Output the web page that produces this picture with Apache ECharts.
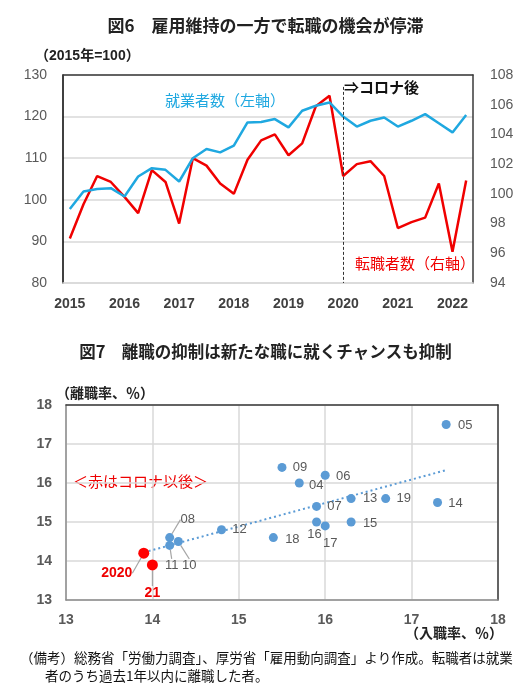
<!DOCTYPE html>
<html>
<head>
    <meta charset="UTF-8">
    <title>図6・図7</title>
    <script type="text/javascript" src="https://cdn.jsdelivr.net/npm/echarts@6/dist/echarts.min.js"></script>
    <style>
        html, body { margin: 0; padding: 0; background: #fff; }
        #main { width: 531px; height: 684px; }
    </style>
</head>
<body>
<div id="main"></div>
<script>
    // 図6 データ（四半期、2015年=100）
    var quarters = ['2015Q1', '2015Q2', '2015Q3', '2015Q4', '2016Q1', '2016Q2', '2016Q3', '2016Q4',
        '2017Q1', '2017Q2', '2017Q3', '2017Q4', '2018Q1', '2018Q2', '2018Q3', '2018Q4',
        '2019Q1', '2019Q2', '2019Q3', '2019Q4', '2020Q1', '2020Q2', '2020Q3', '2020Q4',
        '2021Q1', '2021Q2', '2021Q3', '2021Q4', '2022Q1', '2022Q2'];
    // 就業者数（左軸）
    var employed = [97.8, 102.0, 102.6, 102.8, 100.8, 105.6, 107.6, 107.2, 104.4, 110.0,
        112.2, 111.4, 113.0, 118.6, 118.7, 119.4, 117.4, 121.4, 122.6, 123.4,
        120.0, 117.6, 119.0, 119.8, 117.6, 119.0, 120.6, 118.4, 116.2, 120.4];
    // 転職者数（右軸）
    var jobChangers = [97.0, 99.3, 101.2, 100.8, 99.8, 98.7, 101.6, 100.8, 98.0, 102.4,
        101.9, 100.7, 100.0, 102.3, 103.6, 104.0, 102.6, 103.4, 105.9, 106.6,
        101.2, 102.0, 102.2, 101.2, 97.7, 98.1, 98.4, 100.7, 96.1, 100.9];

    // 図7 データ（入職率、離職率）
    var preYears = ['04', '05', '06', '07', '08', '09', '10', '11', '12', '13', '14', '15', '16', '17', '18', '19'];
    var preEntry = [15.7, 17.4, 16.0, 15.9, 14.2, 15.5, 14.3, 14.2, 14.8, 16.3, 17.3, 16.3, 15.9, 16.0, 15.4, 16.7];
    var preSep = [16.0, 17.5, 16.2, 15.4, 14.6, 16.4, 14.5, 14.4, 14.8, 15.6, 15.5, 15.0, 15.0, 14.9, 14.6, 15.6];
    var covidYears = ['2020', '21'];
    var covidEntry = [13.9, 14.0];
    var covidSep = [14.2, 13.9];
    // 近似線（両端）
    var trendEntry = [13.9, 17.4];
    var trendSep = [14.22, 16.33];

    // ラベルの位置（点の中心からのずれ、px）
    var labelOffsets = {
        '04': [17, 2], '05': [19, 1], '06': [18, 1], '07': [18, 0], '08': [18, -18],
        '09': [18, 0], '10': [11, 24], '11': [2, 20], '12': [18, 0], '13': [19, 0],
        '14': [18, 1], '15': [19, 1], '16': [-2, 12], '17': [5, 18], '18': [19, 2],
        '19': [18, 0], '2020': [-27, 20], '21': [0, 28]
    };
    var withLeader = ['08', '10', '11', '2020', '21'];

    var FONT = "'Liberation Sans', 'Noto Sans CJK JP', sans-serif";
    var JP = "'Noto Sans CJK JP', sans-serif";

    function toPoints(names, xs, ys) {
        var out = [];
        for (var i = 0; i < names.length; i++) {
            out.push({
                name: names[i],
                value: [xs[i], ys[i]],
                labelLine: {show: withLeader.indexOf(names[i]) >= 0}
            });
        }
        return out;
    }

    function layoutLabel(names) {
        return function (p) {
            var o = labelOffsets[names[p.dataIndex]];
            return {
                x: p.rect.x + p.rect.width / 2 + o[0],
                y: p.rect.y + p.rect.height / 2 + o[1],
                align: 'center',
                verticalAlign: 'middle'
            };
        };
    }

    var trendData = [];
    for (var t = 0; t < trendEntry.length; t++) {
        trendData.push([trendEntry[t], trendSep[t]]);
    }

    var myChart = echarts.init(document.getElementById('main'));
    myChart.setOption({
        animation: false,
        textStyle: {fontFamily: FONT},
        title: [{
            text: '図6　雇用維持の一方で転職の機会が停滞',
            left: 'center',
            top: 17,
            padding: 0,
            textStyle: {fontFamily: JP, fontSize: 17, fontWeight: 'bold', color: '#222'}
        }, {
            text: '図7　離職の抑制は新たな職に就くチャンスも抑制',
            left: 'center',
            top: 343,
            padding: 0,
            textStyle: {fontFamily: JP, fontSize: 16.5, fontWeight: 'bold', color: '#222'}
        }],
        grid: [
            {left: 63, right: 58, top: 75, bottom: 401},
            {left: 66, right: 33, top: 405, bottom: 84}
        ],
        xAxis: [{
            gridIndex: 0,
            type: 'category',
            data: quarters,
            boundaryGap: true,
            axisLine: {lineStyle: {color: '#d9d9d9', width: 1.5}},
            axisTick: {show: false},
            axisLabel: {
                interval: 3,
                margin: 14,
                color: '#404040',
                fontSize: 14,
                fontWeight: 'bold',
                formatter: function (v) { return v.slice(0, 4); }
            }
        }, {
            gridIndex: 0,
            type: 'category',
            data: quarters,
            position: 'top',
            axisLine: {lineStyle: {color: '#3a3a3a', width: 1.5}},
            axisTick: {show: false},
            axisLabel: {show: false}
        }, {
            gridIndex: 1,
            type: 'value',
            min: 13,
            max: 18,
            interval: 1,
            axisLine: {show: true, lineStyle: {color: '#8c8c8c', width: 1.5}},
            axisTick: {show: false},
            splitLine: {lineStyle: {color: '#d9d9d9', width: 1.5}},
            axisLabel: {margin: 13, color: '#595959', fontSize: 14, fontWeight: 'bold'}
        }, {
            gridIndex: 1,
            type: 'value',
            min: 13,
            max: 18,
            interval: 1,
            position: 'top',
            axisLine: {show: true, lineStyle: {color: '#3a3a3a', width: 1.5}},
            axisTick: {show: false},
            splitLine: {show: false},
            axisLabel: {show: false}
        }],
        yAxis: [{
            gridIndex: 0,
            type: 'value',
            min: 80,
            max: 130,
            interval: 10,
            axisLine: {show: true, lineStyle: {color: '#000', width: 1.5}},
            axisTick: {show: false},
            splitLine: {lineStyle: {color: '#d9d9d9', width: 1.5}},
            axisLabel: {margin: 16, color: '#595959', fontSize: 14}
        }, {
            gridIndex: 0,
            type: 'value',
            min: 94,
            max: 108,
            interval: 2,
            position: 'right',
            axisLine: {show: true, lineStyle: {color: '#3a3a3a', width: 1.5}},
            axisTick: {show: false},
            splitLine: {show: false},
            axisLabel: {margin: 17, color: '#595959', fontSize: 14}
        }, {
            gridIndex: 1,
            type: 'value',
            min: 13,
            max: 18,
            interval: 1,
            axisLine: {show: true, lineStyle: {color: '#8c8c8c', width: 1.5}},
            axisTick: {show: false},
            splitLine: {lineStyle: {color: '#d9d9d9', width: 1.5}},
            axisLabel: {margin: 14, color: '#595959', fontSize: 14, fontWeight: 'bold'}
        }, {
            gridIndex: 1,
            type: 'value',
            min: 13,
            max: 18,
            interval: 1,
            position: 'right',
            axisLine: {show: true, lineStyle: {color: '#3a3a3a', width: 1.5}},
            axisTick: {show: false},
            splitLine: {show: false},
            axisLabel: {show: false}
        }],
        series: [{
            name: '就業者数',
            type: 'line',
            xAxisIndex: 0,
            yAxisIndex: 0,
            data: employed,
            symbol: 'none',
            lineStyle: {color: '#1fa8e0', width: 2.5},
            z: 3
        }, {
            name: '転職者数',
            type: 'line',
            xAxisIndex: 0,
            yAxisIndex: 1,
            data: jobChangers,
            symbol: 'none',
            lineStyle: {color: '#f00000', width: 2.5},
            z: 2,
            markLine: {
                silent: true,
                symbol: 'none',
                label: {show: false},
                lineStyle: {color: '#333', type: [3, 2], width: 1},
                data: [[{coord: ['2020Q1', 107.2]}, {coord: ['2020Q1', 94]}]]
            }
        }, {
            name: 'トレンド',
            type: 'line',
            xAxisIndex: 2,
            yAxisIndex: 2,
            data: trendData,
            symbol: 'none',
            lineStyle: {color: '#5b9bd5', width: 2, type: [2, 3]},
            z: 1
        }, {
            name: 'コロナ前',
            type: 'scatter',
            xAxisIndex: 2,
            yAxisIndex: 2,
            data: toPoints(preYears, preEntry, preSep),
            symbolSize: 9,
            itemStyle: {color: '#5b9bd5', opacity: 1},
            label: {show: true, formatter: '{b}', color: '#595959', fontSize: 13},
            labelLayout: layoutLabel(preYears),
            labelLine: {lineStyle: {color: '#a6a6a6', width: 1.2}},
            z: 3
        }, {
            name: 'コロナ後',
            type: 'scatter',
            xAxisIndex: 2,
            yAxisIndex: 2,
            data: toPoints(covidYears, covidEntry, covidSep),
            symbolSize: 11,
            itemStyle: {color: '#ff0000', opacity: 1},
            label: {show: true, formatter: '{b}', color: '#ee0000', fontSize: 14, fontWeight: 'bold'},
            labelLayout: layoutLabel(covidYears),
            labelLine: {lineStyle: {color: '#a6a6a6', width: 1.2}},
            z: 4
        }],
        graphic: [{
            type: 'text', left: 35, top: 49,
            style: {text: '（2015年=100）', font: 'bold 14px ' + FONT, fill: '#222'}
        }, {
            type: 'text', left: 165, top: 93,
            style: {text: '就業者数（左軸）', font: '15px ' + JP, fill: '#1fa8e0'}
        }, {
            type: 'text', left: 355, top: 256,
            style: {text: '転職者数（右軸）', font: '15px ' + JP, fill: '#f00000'}
        }, {
            type: 'text', left: 344, top: 80,
            style: {text: '⇒コロナ後', font: 'bold 15px ' + JP, fill: '#111'}
        }, {
            type: 'text', left: 56, top: 386,
            style: {text: '（離職率、％）', font: 'bold 14px ' + JP, fill: '#222'}
        }, {
            type: 'text', left: 73, top: 474,
            style: {text: '＜赤はコロナ以後＞', font: '15px ' + JP, fill: '#ee0000'}
        }, {
            type: 'text', left: 405, top: 626,
            style: {text: '（入職率、％）', font: 'bold 14px ' + JP, fill: '#222'}
        }, {
            type: 'text', left: 20, top: 651,
            style: {text: '（備考）総務省「労働力調査」、厚労省「雇用動向調査」より作成。転職者は就業', font: '13.5px ' + JP, fill: '#111'}
        }, {
            type: 'text', left: 45, top: 669,
            style: {text: '者のうち過去1年以内に離職した者。', font: '13.5px ' + JP, fill: '#111'}
        }]
    });
</script>
</body>
</html>
